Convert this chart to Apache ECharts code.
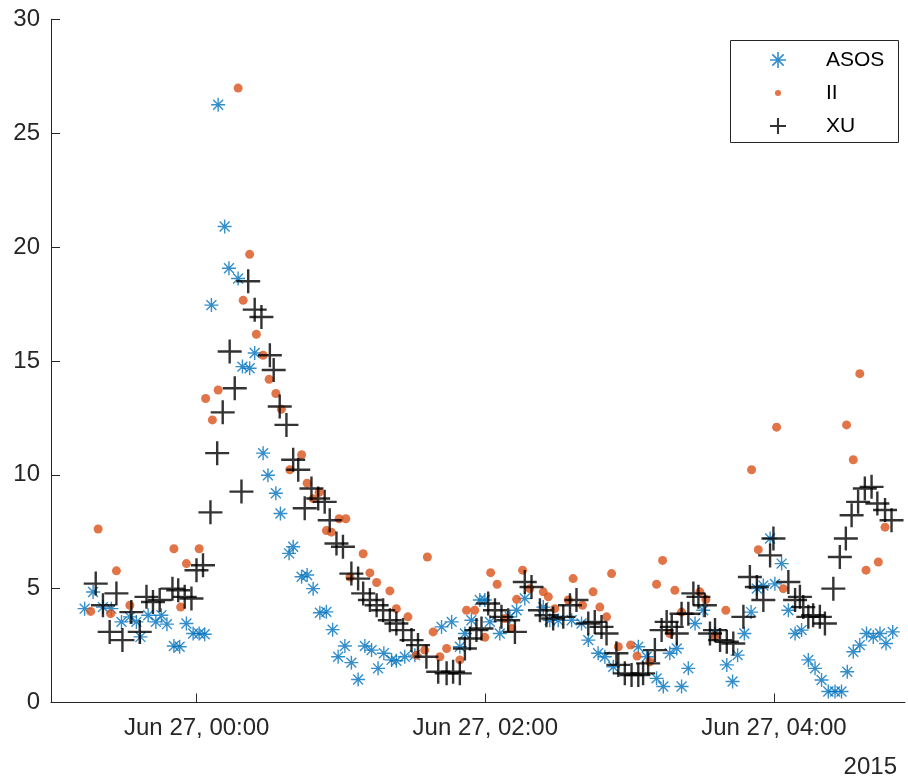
<!DOCTYPE html>
<html>
<head>
<meta charset="utf-8">
<title>ASOS / II / XU</title>
<script src="https://cdn.jsdelivr.net/npm/echarts@6.0.0/dist/echarts.min.js"></script>
<style>
  html, body { margin: 0; padding: 0; background: #fff; }
  #chart { width: 908px; height: 780px; }
</style>
</head>
<body>
<div id="chart"></div>
<script>
// x: minutes from Jun 27, 00:00 (2015), y: values

// ASOS
var asosTime = [-46.6, -43.1, -39, -35.5, -31.3, -27.8, -25.1, -23.4, -20.2, -17, -14.7, -12.4, -9.5, -7.1, -4.3, -1.5,
  1, 3.3, 6.1, 8.9, 11.6, 13.4, 17.2, 19, 22, 24.1, 27.6, 29.6, 32.9, 34.8, 38.4, 40.1, 43.6, 45.9, 48.4, 51.2, 53.9,
  56.5, 58.8, 61.6, 64.3, 67.1, 69.9, 72.7, 75.4, 77.8, 81, 83, 86.5, 90.7, 101.8, 106, 109.4, 111.5, 114.2, 117.7,
  119.8, 121.9, 126, 130.2, 133, 136.4, 144.1, 146.8, 150.3, 155.9, 160, 162.8, 166.9, 169.7, 173.2, 183.6, 187.1,
  191.2, 194, 196.7, 199.6, 201.6, 204.4, 207.2, 210.6, 215.5, 220.4, 222.8, 224.9, 227.7, 230.5, 232.9, 235.6,
  238.4, 240.4, 243.2, 246, 248.8, 251.5, 254.3, 257.1, 259.8, 262.6, 265.4, 268.1, 270.5, 273, 275.7, 278.5,
  281.3, 284.1, 286.6, 289.4];
var asosValue = [4.12, 4.85, 4.19, 4.12, 3.54, 3.76, 3.54, 2.88, 3.83, 3.54, 3.83, 3.44, 2.48, 2.45, 3.47, 3.03,
  3.03, 3.0, 17.45, 26.25, 20.9, 19.07, 18.62, 14.75, 14.68, 15.35, 10.95, 9.98, 9.19, 8.3, 6.55, 6.84, 5.52, 5.6,
  5.0, 3.94, 3.98, 3.2, 2.01, 2.48, 1.75, 1.01, 2.48, 2.3, 1.5, 2.16, 1.87, 1.83, 2.01, 2.08, 3.32, 3.54, 2.45, 3.03,
  3.61, 4.5, 4.5, 3.54, 3.03, 3.76, 4.05, 4.57, 4.19, 3.61, 3.61, 3.61, 3.47, 2.74, 2.16, 2.01, 1.57, 2.45, 2.01,
  1.06, 0.7, 2.16, 2.37, 0.7, 1.5, 3.47, 4.05, 3.03, 1.65, 0.92, 2.08, 3.03, 3.97, 5.0, 5.14, 7.2, 5.21, 6.1, 4.05,
  3.03, 3.18, 1.87, 1.5, 0.99, 0.48, 0.48, 0.48, 1.35, 2.23, 2.52, 3.03, 2.88, 3.03, 2.59, 3.1];

// II
var iiTime = [-44.1, -41, -35.8, -33.4, -27.8, -9.5, -6.7, -4.3, 1, 3.7, 6.5, 8.9, 17.2, 19.3, 22, 24.8, 27.6, 30.1,
  32.9, 35.2, 38.7, 43.6, 45.9, 48.4, 50.9, 53.9, 56, 59.2, 62, 63.7, 69.2, 72, 74.8, 80.3, 83, 87.8, 91.3, 94.8,
  95.9, 98.3, 101.1, 103.9, 109.4, 112.2, 115.6, 119.8, 122.2, 124.9, 128.1, 130.9, 133, 135.5, 138.5, 144.1, 146.2,
  148.9, 154.5, 156.5, 160.4, 164.8, 167.6, 170.4, 172.5, 175.3, 180.4, 183.1, 188.4, 191.2, 193.7, 196.7, 198.8,
  201.6, 209.2, 211.7, 215.5, 220, 230.7, 233.5, 241.1, 243.9, 270.2, 273, 275.7, 278.3, 283.4, 286.2];
var iiValue = [4.0, 7.62, 3.9, 5.78, 4.27, 6.75, 4.19, 6.1, 6.75, 13.35, 12.41, 13.72, 26.98, 17.66, 19.68, 16.17,
  15.25, 14.19, 13.57, 12.88, 10.22, 10.88, 9.63, 8.95, 9.23, 7.55, 7.48, 8.07, 8.07, 5.51, 6.53, 5.69, 5.27, 4.9,
  4.12, 3.76, 2.08, 2.3, 6.39, 3.1, 2.01, 2.37, 1.87, 4.05, 4.05, 2.86, 5.7, 5.19, 3.69, 3.25, 4.53, 5.81, 5.0, 4.86,
  4.64, 4.12, 4.5, 5.44, 4.27, 4.86, 4.19, 3.76, 5.66, 2.45, 2.52, 2.04, 1.79, 5.19, 6.24, 3.03, 4.93, 3.97, 4.86,
  4.52, 2.91, 4.05, 10.22, 6.71, 12.09, 5.0, 12.19, 10.66, 14.44, 5.81, 6.17, 7.7];

// XU
var xuTime = [-42, -39, -36.2, -33.4, -30.9, -27.2, -23.7, -20.9, -18.2, -15.4, -10.1, -7.7, -5, -2.2, -0.1, 2.6,
  5.7, 8.5, 10.8, 13.7, 15.8, 18.6, 21.4, 24.1, 26.9, 30.4, 32, 34.5, 37.3, 40.1, 42.2, 44.9, 47.7, 50.5, 53.2, 55.3,
  58.1, 60.8, 64.3, 67.1, 69.2, 72, 74.8, 77.5, 80.3, 83, 85.8, 89.3, 92, 95.5, 100.4, 103.9, 106.6, 109.4, 111.5,
  113.6, 116.3, 118.4, 121.2, 124, 126.7, 129.5, 132.3, 136.4, 139.2, 142.7, 145.4, 148.2, 152.4, 155.2, 157.9,
  162.8, 165.5, 168.3, 170.4, 174.5, 175.3, 178, 180.8, 183.6, 185.6, 187.7, 190.5, 193.3, 195.4, 197.5, 199.6,
  201.6, 204.4, 206.5, 208.6, 211.3, 213.4, 215.5, 217.6, 220.4, 223.1, 227.3, 230, 232.9, 235.6, 238.4, 239.8,
  246, 248.8, 250.8, 252.2, 254.3, 256.3, 259.1, 261.2, 264.7, 267.4, 269.9, 272.3, 275, 277.8, 280.6, 283, 286.2,
  288.9];
var xuValue = [5.22, 4.27, 3.1, 4.79, 2.74, 3.97, 3.1, 4.64, 4.41, 4.5, 5.0, 4.93, 4.64, 4.57, 5.81, 6.03, 8.35,
  10.95, 12.74, 15.41, 13.8, 9.26, 18.5, 17.25, 16.93, 15.25, 14.6, 13.0, 12.19, 10.66, 10.22, 8.53, 9.4, 8.96, 8.81,
  8.0, 6.98, 6.84, 5.66, 5.44, 4.79, 4.5, 4.27, 4.05, 3.61, 3.47, 3.18, 2.74, 2.52, 2.01, 1.35, 1.28, 1.35, 1.28,
  2.37, 2.81, 3.18, 3.25, 4.35, 4.05, 3.76, 3.61, 3.1, 5.29, 5.07, 4.05, 3.83, 3.69, 3.76, 4.27, 4.5, 3.47, 3.54,
  3.32, 3.03, 2.16, 1.65, 1.28, 1.21, 1.21, 1.28, 1.72, 2.3, 3.18, 3.54, 3.32, 3.03, 3.9, 3.9, 4.79, 4.64, 4.27,
  3.03, 3.18, 2.74, 2.67, 2.59, 3.76, 5.51, 5.07, 4.5, 6.46, 7.2, 5.29, 4.5, 4.64, 4.19, 3.76, 3.83, 3.76, 3.47,
  5.0, 6.39, 7.2, 8.22, 8.81, 9.4, 9.47, 8.74, 8.45, 8.0];

var tickMinutes = [0, 120, 240];
var tickLabels = ['Jun 27, 00:00', 'Jun 27, 02:00', 'Jun 27, 04:00'];

function pairs(t, v) {
  return t.map(function (x, i) { return [x, v[i]]; });
}

// marker shapes (drawn as filled outlines)
var asteriskPath = 'path://M45,0H55V100H45Z M0,45H100V55H0Z' +
  ' M18.1,11.1L88.9,81.9L81.9,88.9L11.1,18.1Z M88.9,18.1L18.1,88.9L11.1,81.9L81.9,11.1Z';
var plusPath = 'path://M45,0H55V45H100V55H55V100H45V55H0V45H45Z';
var legendPlusPath = 'path://M43.5,0H56.5V43.5H100V56.5H56.5V100H43.5V56.5H0V43.5H43.5Z';
var smallDotPath = 'path://M0,0ZM100,100ZM31,50A19,19 0 1 0 69,50A19,19 0 1 0 31,50Z';

var axisColor = '#262626';
var font = '"Liberation Sans", Arial, Helvetica, sans-serif';

var chart = echarts.init(document.getElementById('chart'));

var option = {
  animation: false,
  backgroundColor: '#fff',
  grid: {
    left: 51,
    right: 3,
    top: 19.3,
    bottom: 77.5
  },
  xAxis: {
    type: 'value',
    min: -60.6,
    max: 294.5,
    axisLine: { show: true, onZero: false, lineStyle: { color: axisColor, width: 1 } },
    axisTick: {
      show: true,
      inside: true,
      length: 9,
      customValues: tickMinutes,
      lineStyle: { color: axisColor }
    },
    axisLabel: {
      customValues: tickMinutes,
      margin: 14,
      color: axisColor,
      fontFamily: font,
      fontSize: 24,
      formatter: function (v) {
        var i = tickMinutes.indexOf(v);
        return i >= 0 ? tickLabels[i] : '';
      }
    },
    splitLine: { show: false }
  },
  yAxis: {
    type: 'value',
    min: 0,
    max: 30,
    interval: 5,
    axisLine: { show: true, onZero: false, lineStyle: { color: axisColor, width: 1 } },
    axisTick: { show: true, inside: true, length: 9, lineStyle: { color: axisColor } },
    axisLabel: {
      margin: 11,
      color: axisColor,
      fontFamily: font,
      fontSize: 24
    },
    splitLine: { show: false }
  },
  legend: {
    orient: 'vertical',
    left: 770,
    top: 49,
    padding: 0,
    itemGap: 11,
    itemWidth: 16,
    itemHeight: 16,
    selectedMode: false,
    textStyle: {
      color: '#000',
      fontFamily: font,
      fontSize: 21,
      lineHeight: 22,
      padding: [0, 0, 0, 35]
    },
    data: [
      { name: 'ASOS', icon: asteriskPath },
      { name: 'II', icon: smallDotPath },
      { name: 'XU', icon: legendPlusPath }
    ],
    z: 5
  },
  graphic: [
    {
      type: 'rect',
      z: 1,
      shape: { x: 730.5, y: 40.5, width: 168, height: 102 },
      style: { fill: '#fff', stroke: axisColor, lineWidth: 1 }
    },
    {
      type: 'text',
      right: 11,
      top: 755,
      style: {
        text: '2015',
        fill: axisColor,
        font: '24px ' + font
      }
    }
  ],
  series: [
    {
      name: 'ASOS',
      type: 'scatter',
      symbol: asteriskPath,
      symbolSize: 14,
      itemStyle: { color: '#0072BD' },
      data: pairs(asosTime, asosValue)
    },
    {
      name: 'II',
      type: 'scatter',
      symbol: 'circle',
      symbolSize: 9,
      itemStyle: { color: '#D95319' },
      data: pairs(iiTime, iiValue)
    },
    {
      name: 'XU',
      type: 'scatter',
      symbol: plusPath,
      symbolSize: 24,
      itemStyle: { color: '#000' },
      data: pairs(xuTime, xuValue)
    }
  ]
};

chart.setOption(option);
</script>
</body>
</html>
